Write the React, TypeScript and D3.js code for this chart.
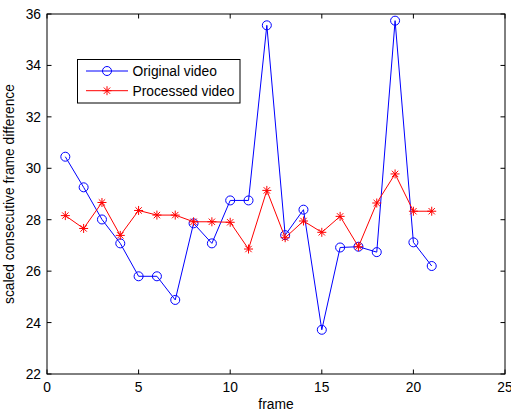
import React, { useEffect, useRef } from 'react';
import * as d3 from 'd3';

const frames = d3.range(1, 22);
const original = [30.45, 29.26, 28.01, 27.08, 25.8, 25.8, 24.88, 27.86, 27.08, 28.75, 28.75,
  35.56, 27.4, 28.39, 23.72, 26.92, 26.95, 26.74, 35.74, 27.12, 26.2];
const processed = [28.16, 27.66, 28.67, 27.39, 28.36, 28.18, 28.18, 27.92, 27.92, 27.9, 26.86,
  29.14, 27.3, 27.95, 27.51, 28.13, 26.95, 28.65, 29.78, 28.33, 28.33];
const xTicks = [0, 5, 10, 15, 20, 25];
const yTicks = [22, 24, 26, 28, 30, 32, 34, 36];
const seriesNames = ['Original video', 'Processed video'];

const width = 511;
const height = 411;
const left = 47;
const right = 505;
const top = 14;
const bottom = 374;
const font = '"Liberation Sans", Arial, sans-serif';
const fs = '13.8px';

export default function App() {
  const ref = useRef<SVGSVGElement>(null);

  useEffect(() => {
    const svg = d3.select(ref.current);
    svg.selectAll('*').remove();

    const x = d3.scaleLinear().domain([0, 25]).range([left, right]);
    const y = d3.scaleLinear().domain([22, 36]).range([bottom, top]);

    // ticks + labels (matlab style, ticks inside)
    const tl = 4.5;
    const axis = svg.append('g');
    xTicks.forEach((t) => {
      axis.append('line').attr('x1', x(t)).attr('x2', x(t)).attr('y1', bottom).attr('y2', bottom - tl)
        .attr('stroke', '#000');
      axis.append('line').attr('x1', x(t)).attr('x2', x(t)).attr('y1', top).attr('y2', top + tl)
        .attr('stroke', '#000');
      axis.append('text').attr('x', x(t)).attr('y', bottom + 18).attr('text-anchor', 'middle')
        .style('font-family', font).style('font-size', fs).text(t);
    });
    yTicks.forEach((t) => {
      axis.append('line').attr('x1', left).attr('x2', left + tl).attr('y1', y(t)).attr('y2', y(t))
        .attr('stroke', '#000');
      axis.append('line').attr('x1', right).attr('x2', right - tl).attr('y1', y(t)).attr('y2', y(t))
        .attr('stroke', '#000');
      axis.append('text').attr('x', left - 6).attr('y', y(t) + 5).attr('text-anchor', 'end')
        .style('font-family', font).style('font-size', fs).text(t);
    });
    svg.append('rect').attr('x', left).attr('y', top).attr('width', right - left).attr('height', bottom - top)
      .attr('fill', 'none').attr('stroke', '#000').attr('stroke-width', 1);

    svg.append('text').attr('x', (left + right) / 2).attr('y', 409).attr('text-anchor', 'middle')
      .style('font-family', font).style('font-size', fs).text('frame');
    svg.append('text').attr('transform', `translate(14, ${(top + bottom) / 2}) rotate(-90)`)
      .attr('text-anchor', 'middle')
      .style('font-family', font).style('font-size', fs).text('scaled consecutive frame difference');

    const line = d3.line<number>().x((d, i) => x(frames[i])).y((d) => y(d));

    const star = (g: d3.Selection<SVGGElement, unknown, null, undefined>, cx: number, cy: number) => {
      const r = 4.5;
      [0, 45, 90, 135].forEach((a) => {
        const dx = r * Math.cos((a * Math.PI) / 180);
        const dy = r * Math.sin((a * Math.PI) / 180);
        g.append('line').attr('x1', cx - dx).attr('x2', cx + dx).attr('y1', cy - dy).attr('y2', cy + dy)
          .attr('stroke', '#ff0000').attr('stroke-width', 1);
      });
    };

    // original
    svg.append('path').datum(original).attr('d', line).attr('fill', 'none')
      .attr('stroke', '#0000ff').attr('stroke-width', 1);
    svg.append('g').selectAll('circle').data(original).enter().append('circle')
      .attr('cx', (d, i) => x(frames[i])).attr('cy', (d) => y(d)).attr('r', 4.5)
      .attr('fill', 'none').attr('stroke', '#0000ff').attr('stroke-width', 1);

    // processed
    svg.append('path').datum(processed).attr('d', line).attr('fill', 'none')
      .attr('stroke', '#ff0000').attr('stroke-width', 1);
    const sg = svg.append('g');
    processed.forEach((d, i) => star(sg, x(frames[i]), y(d)));

    // legend
    const lg = svg.append('g');
    lg.append('rect').attr('x', 77.5).attr('y', 59.5).attr('width', 162.5).attr('height', 43.5)
      .attr('fill', '#fff').attr('stroke', '#000');
    const rows = [71, 90.7];
    lg.append('line').attr('x1', 86).attr('x2', 128).attr('y1', rows[0]).attr('y2', rows[0]).attr('stroke', '#0000ff');
    lg.append('circle').attr('cx', 107).attr('cy', rows[0]).attr('r', 4.5).attr('fill', 'none').attr('stroke', '#0000ff');
    lg.append('line').attr('x1', 86).attr('x2', 128).attr('y1', rows[1]).attr('y2', rows[1]).attr('stroke', '#ff0000');
    star(lg, 107, rows[1]);
    seriesNames.forEach((n, i) => {
      lg.append('text').attr('x', 132.5).attr('y', rows[i] + 5)
        .style('font-family', font).style('font-size', fs).text(n);
    });
  }, []);

  return (
    <svg ref={ref} width={width} height={height}
      style={{ position: 'absolute', left: 0, top: 0, background: '#fff' }} />
  );
}
